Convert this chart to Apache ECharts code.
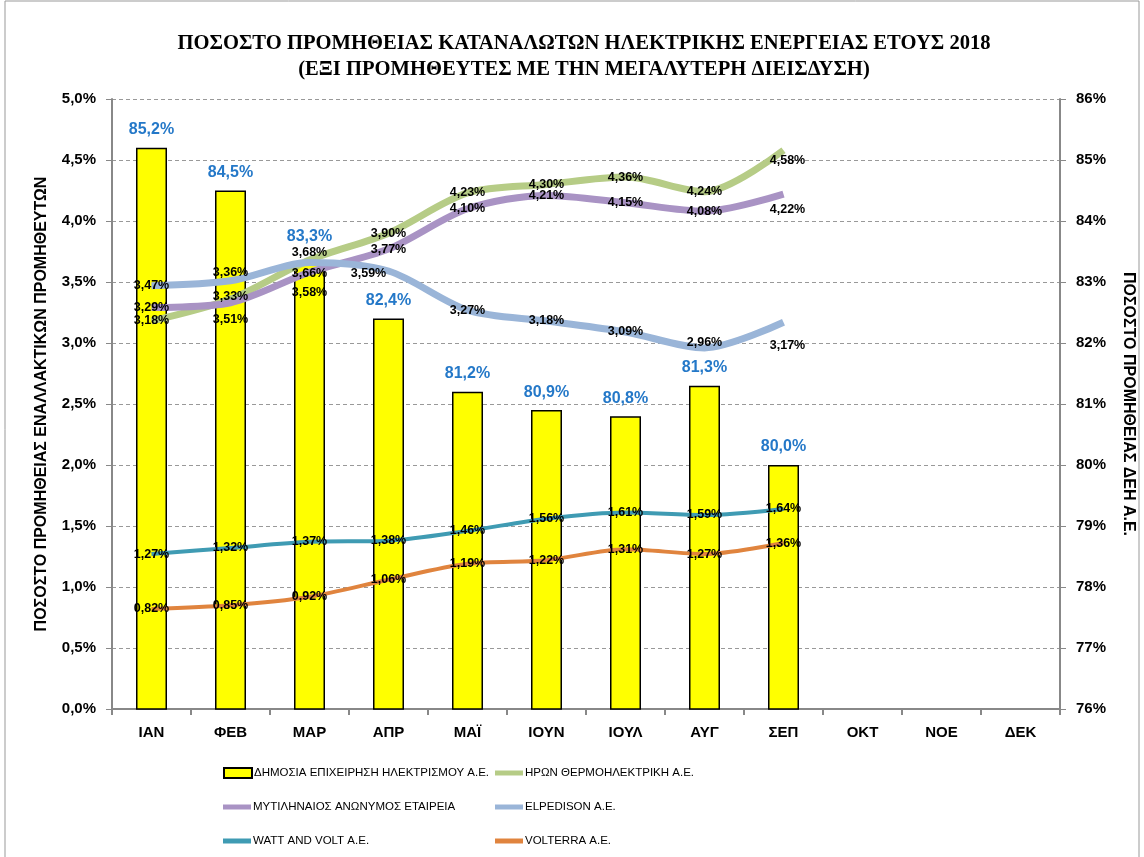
<!DOCTYPE html>
<html>
<head>
<meta charset="utf-8">
<script src="https://cdn.jsdelivr.net/npm/echarts@6/dist/echarts.min.js"></script>
<style>
html, body { margin: 0; padding: 0; background: #fff; }
#chart { width: 1144px; height: 857px; }
</style>
</head>
<body>
<div id="chart"></div>
<script>
var months = ['ΙΑΝ', 'ΦΕΒ', 'ΜΑΡ', 'ΑΠΡ', 'ΜΑΪ', 'ΙΟΥΝ', 'ΙΟΥΛ', 'ΑΥΓ', 'ΣΕΠ', 'ΟΚΤ', 'ΝΟΕ', 'ΔΕΚ'];

// ΔΕΗ (right axis, %)
var dei = [85.2, 84.5, 83.3, 82.4, 81.2, 80.9, 80.8, 81.3, 80.0];
// alternative suppliers (left axis, %)
var hron = [3.18, 3.36, 3.68, 3.90, 4.23, 4.30, 4.36, 4.24, 4.58];
var mytil = [3.29, 3.33, 3.58, 3.77, 4.10, 4.21, 4.15, 4.08, 4.22];
var elped = [3.47, 3.51, 3.66, 3.59, 3.27, 3.18, 3.09, 2.96, 3.17];
var watt = [1.27, 1.32, 1.37, 1.38, 1.46, 1.56, 1.61, 1.59, 1.64];
var volt = [0.82, 0.85, 0.92, 1.06, 1.19, 1.22, 1.31, 1.27, 1.36];

var names = ['ΔΗΜΟΣΙΑ ΕΠΙΧΕΙΡΗΣΗ ΗΛΕΚΤΡΙΣΜΟΥ Α.Ε.', 'ΗΡΩΝ ΘΕΡΜΟΗΛΕΚΤΡΙΚΗ Α.Ε.',
    'ΜΥΤΙΛΗΝΑΙΟΣ ΑΝΩΝΥΜΟΣ ΕΤΑΙΡΕΙΑ', 'ELPEDISON Α.Ε.', 'WATT AND VOLT A.E.', 'VOLTERRA A.E.'];

var font = 'Liberation Sans';

function pct(v, d) {
    return v.toFixed(d).replace('.', ',') + '%';
}

// labels moved by hand in the original sheet  [series][month] = [dx, dy]
var nudge = {
    hron: {1: [0, -27], 2: [0, -7], 8: [4, 10]},
    mytil: {1: [0, -6], 2: [0, 20], 8: [4, 15]},
    elped: {1: [0, 39], 2: [0, 11], 3: [-20, 3], 7: [0, -5], 8: [4, 23]}
};

function lineData(arr, key) {
    return arr.map(function (v, i) {
        var d = (nudge[key] && nudge[key][i]) || [0, 0];
        return {
            value: v,
            label: {position: [d[0], d[1]], align: 'center', verticalAlign: 'middle'}
        };
    });
}

function lineSeries(name, arr, key, color, width) {
    return {
        name: name,
        type: 'line',
        yAxisIndex: 0,
        data: lineData(arr, key),
        smooth: 0.3,
        symbol: 'rect',
        symbolSize: 0.01,
        showSymbol: true,
        z: 3,
        lineStyle: {color: color, width: width},
        itemStyle: {color: color},
        label: {
            show: true,
            color: '#000',
            fontFamily: font,
            fontWeight: 'bold',
            fontSize: 12.5,
            formatter: function (p) { return pct(p.value, 2); }
        },
        labelLayout: {hideOverlap: false}
    };
}

var myChart = echarts.init(document.getElementById('chart'));

var legendPos = [[218, 762], [490, 762], [218, 796], [490, 796], [218, 830], [490, 830]];
var legends = names.map(function (n, i) {
    return {
        data: [{name: n, icon: 'rect'}],
        left: legendPos[i][0],
        top: legendPos[i][1],
        itemWidth: 28,
        itemHeight: i == 0 ? 10 : 5,
        itemGap: 4,
        textStyle: {fontFamily: font, fontSize: 11.5, color: '#000', padding: [0, 0, 0, -3]}
    };
});

// bar label for ΜΑΡ sits a bit higher in the original
var barData = dei.map(function (v, i) {
    return i == 2 ? {value: v, label: {distance: 19}} : v;
});

var option = {
    backgroundColor: '#fff',
    animation: false,
    title: {
        text: 'ΠΟΣΟΣΤΟ ΠΡΟΜΗΘΕΙΑΣ ΚΑΤΑΝΑΛΩΤΩΝ ΗΛΕΚΤΡΙΚΗΣ ΕΝΕΡΓΕΙΑΣ ΕΤΟΥΣ 2018\n(ΕΞΙ ΠΡΟΜΗΘΕΥΤΕΣ ΜΕ ΤΗΝ ΜΕΓΑΛΥΤΕΡΗ ΔΙΕΙΣΔΥΣΗ)',
        left: 579,
        top: 26,
        textAlign: 'center',
        textStyle: {
            fontFamily: 'Liberation Serif',
            fontWeight: 'bold',
            fontSize: 20.6,
            lineHeight: 26,
            color: '#000'
        }
    },
    legend: legends,
    grid: {
        left: 112,
        right: 83,
        top: 99,
        bottom: 148
    },
    xAxis: {
        type: 'category',
        data: months,
        axisLine: {lineStyle: {color: '#888', width: 2}},
        axisTick: {show: true, length: 6, lineStyle: {color: '#888', width: 2}},
        axisLabel: {
            color: '#000',
            fontFamily: font,
            fontWeight: 'bold',
            fontSize: 15,
            margin: 16
        }
    },
    yAxis: [{
        type: 'value',
        min: 0,
        max: 5,
        interval: 0.5,
        name: 'ΠΟΣΟΣΤΟ ΠΡΟΜΗΘΕΙΑΣ ΕΝΑΛΛΑΚΤΙΚΩΝ ΠΡΟΜΗΘΕΥΤΩΝ',
        nameLocation: 'middle',
        nameRotate: 90,
        nameGap: 62,
        nameTextStyle: {fontFamily: font, fontWeight: 'bold', fontSize: 16, color: '#000'},
        axisLine: {show: true, lineStyle: {color: '#888', width: 2}},
        axisTick: {show: true, length: 6, lineStyle: {color: '#888'}},
        axisLabel: {
            color: '#000',
            fontFamily: font,
            fontWeight: 'bold',
            fontSize: 15,
            margin: 16,
            formatter: function (v) { return pct(v, 1); }
        },
        splitLine: {show: true, lineStyle: {color: '#999', type: [4, 3], width: 1}}
    }, {
        type: 'value',
        min: 76,
        max: 86,
        interval: 1,
        position: 'right',
        name: 'ΠΟΣΟΣΤΟ ΠΡΟΜΗΘΕΙΑΣ ΔΕΗ Α.Ε.',
        nameLocation: 'middle',
        nameRotate: -90,
        nameGap: 60,
        nameTextStyle: {fontFamily: font, fontWeight: 'bold', fontSize: 16, color: '#000'},
        axisLine: {show: true, lineStyle: {color: '#888', width: 2}},
        axisTick: {show: true, length: 6, lineStyle: {color: '#888'}},
        axisLabel: {
            color: '#000',
            fontFamily: font,
            fontWeight: 'bold',
            fontSize: 15,
            margin: 16,
            formatter: function (v) { return v + '%'; }
        },
        splitLine: {show: false}
    }],
    series: [{
        name: names[0],
        type: 'bar',
        yAxisIndex: 1,
        data: barData,
        barWidth: 31,
        z: 1,
        itemStyle: {color: '#ffff00', borderColor: '#000', borderWidth: 1.5},
        label: {
            show: true,
            position: 'top',
            distance: 10,
            color: '#2478c8',
            fontFamily: font,
            fontWeight: 'bold',
            fontSize: 16,
            formatter: function (p) { return pct(p.value, 1); }
        }
    },
        lineSeries(names[1], hron, 'hron', '#b6cc86', 7),
        lineSeries(names[2], mytil, 'mytil', '#a993c4', 7),
        lineSeries(names[3], elped, 'elped', '#9ab5d8', 7),
        lineSeries(names[4], watt, 'watt', '#3f9bb3', 4),
        lineSeries(names[5], volt, 'volt', '#e0843e', 4)
    ],
    graphic: [{
        type: 'rect',
        shape: {x: 5, y: 1, width: 1134, height: 880},
        style: {fill: 'none', stroke: '#999', lineWidth: 1},
        silent: true
    }]
};

myChart.setOption(option);
</script>
</body>
</html>
